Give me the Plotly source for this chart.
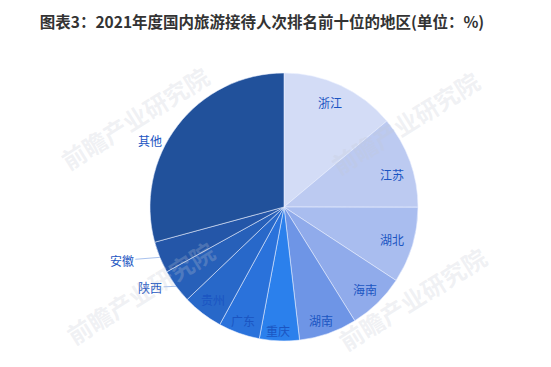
import math
import plotly.graph_objects as go

# ---------------- data ----------------
regions = ["浙江", "江苏", "湖北", "海南", "湖南", "重庆", "广东", "贵州", "陕西", "安徽", "其他"]
shares = [13.9, 11.1, 9.2, 6.9, 7.0, 4.8, 5.0, 4.9, 4.1, 3.8, 29.2]
title_text = "图表3：2021年度国内旅游接待人次排名前十位的地区(单位：%)"

# ---------------- styles ----------------
slice_colors = ["#d3dcf6", "#bccaf1", "#a9bdef", "#90abeb", "#6e95e6",
                "#2b80ec", "#2a72db", "#2868c9", "#2760b9", "#2456a8", "#21519b"]
W, H = 551, 367
CX, CY, R = 284, 207, 134          # pie centre / radius in px
label_r = [0.85, 0.84, 0.84, 0.86, 0.89, 0.92, 0.90, 0.87, None, None, 1.12]
label_angle_shift = [-1, 3, 0, 0, 1, 1, 0, 0, 0, 0, -11]
outside = {"安徽": (-38, 3), "陕西": (-26, 1)}   # text offsets (px) for leader-line labels
label_color = "#1b55c2"
font_cn = "Noto Sans CJK SC"

fig = go.Figure()
fig.add_trace(go.Pie(
    labels=regions, values=shares, sort=False, direction="clockwise", rotation=0,
    marker=dict(colors=slice_colors, line=dict(color="rgba(235,240,255,0.55)", width=1)),
    textinfo="none", hoverinfo="label+value", showlegend=False,
    domain=dict(x=[(CX - R) / W, (CX + R) / W], y=[(H - CY - R) / H, (H - CY + R) / H]),
))

total = sum(shares)
cum = 0.0
annotations = []
for i, (name, v) in enumerate(zip(regions, shares)):
    mid = 360.0 * (cum + v / 2) / total
    cum += v
    if name in outside:
        ex = CX + R * math.sin(math.radians(mid))
        ey = CY - R * math.cos(math.radians(mid))
        ax, ay = outside[name]
        annotations.append(dict(x=ex / W, y=1 - ey / H, xref="paper", yref="paper",
                                text=name, showarrow=True, arrowhead=0, arrowwidth=1,
                                arrowcolor="#a9c2ee", ax=ax, ay=ay, standoff=0,
                                font=dict(family=font_cn, size=12, color=label_color)))
    else:
        a = math.radians(mid + label_angle_shift[i])
        r = label_r[i] * R
        px = CX + r * math.sin(a)
        py = CY - r * math.cos(a)
        annotations.append(dict(x=px / W, y=1 - py / H, xref="paper", yref="paper",
                                xanchor="center", yanchor="middle",
                                text=name, showarrow=False,
                                font=dict(family=font_cn, size=12, color=label_color)))

# faint watermarks
for (wx, wy) in [(135, 118), (405, 122), (140, 292), (412, 298)]:
    annotations.append(dict(x=wx / W, y=1 - wy / H, xref="paper", yref="paper",
                            xanchor="center", yanchor="middle",
                            text="<b>前瞻产业研究院</b>", showarrow=False, textangle=-32,
                            font=dict(family=font_cn, size=24, color="rgba(195,200,212,0.25)")))

fig.update_layout(
    width=W, height=H,
    margin=dict(l=0, r=0, t=0, b=0),
    paper_bgcolor="white", plot_bgcolor="white",
    title=dict(text="<b>" + title_text + "</b>", x=262 / W, xanchor="center",
               y=1 - 23 / H, yanchor="middle", yref="container",
               font=dict(family=font_cn, size=15.5, color="#333333")),
    annotations=annotations,
)

fig.write_html("out.html")
